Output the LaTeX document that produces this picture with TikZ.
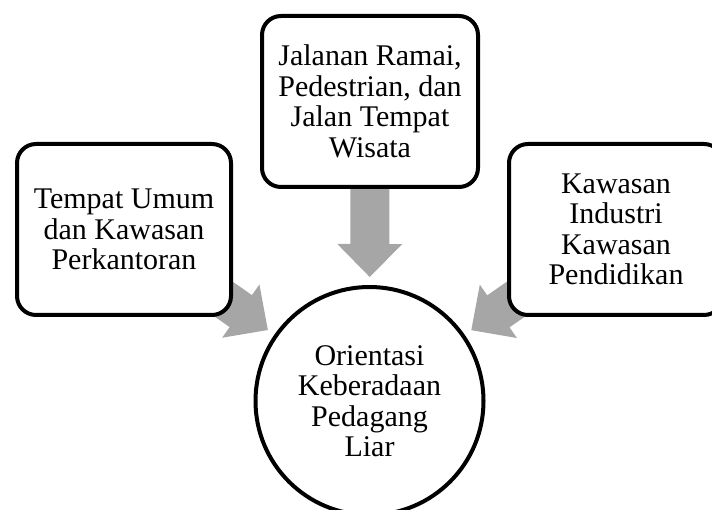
\documentclass[tikz,border=0pt]{standalone}
\usepackage{fontspec}
\setmainfont{Liberation Serif}
\usetikzlibrary{calc,backgrounds}
\definecolor{arrowgray}{RGB}{166,166,166}
\newcommand\diagfont{\fontsize{30}{30.5}\selectfont}
\begin{document}
\begin{tikzpicture}[x=1pt,y=-1pt,
  box/.style={draw=black, line width=4pt, rounded corners=19pt, fill=white,
    minimum width=214pt, minimum height=171pt, align=center, inner sep=0pt,
    font=\diagfont},
  hubnode/.style={draw=black, circle, line width=4pt, fill=white,
    minimum size=228pt, inner sep=0pt, align=center, font=\diagfont},
  blockarrow/.style={fill=arrowgray}]
\useasboundingbox (0,0) rectangle (712,510);
\clip (0,0) rectangle (712,510);

% source boxes and the central circle
\node[box, minimum width=216pt] (jalan) at (370,101.5)
  {Jalanan Ramai,\\Pedestrian, dan\\Jalan Tempat\\Wisata};
\node[box] (umum) at (124,229.5) {Tempat Umum\\dan Kawasan\\Perkantoran};
\node[box] (kawasan) at (616,229.5) {Kawasan\\Industri\\Kawasan\\Pendidikan};
\node[hubnode] (hub) at (369.5,401) {Orientasi\\Keberadaan\\Pedagang\\Liar};

% wide grey block arrows, tucked behind the boxes
\begin{scope}[on background layer]
  \foreach \src in {umum,jalan,kawasan} {
    \coordinate (tip) at ($(hub.center)!124pt!(\src.center)$);
    \coordinate (base) at ($(tip)!33pt!(\src.center)$);
    \fill[blockarrow]
      ($(\src.center)!19.5pt!90:(tip)$) --
      ($(base)!19.5pt!90:(tip)$) --
      ($(base)!32.5pt!90:(tip)$) --
      (tip) --
      ($(base)!32.5pt!-90:(tip)$) --
      ($(base)!19.5pt!-90:(tip)$) --
      ($(\src.center)!19.5pt!-90:(tip)$) -- cycle;
  }
\end{scope}
\end{tikzpicture}
\end{document}
